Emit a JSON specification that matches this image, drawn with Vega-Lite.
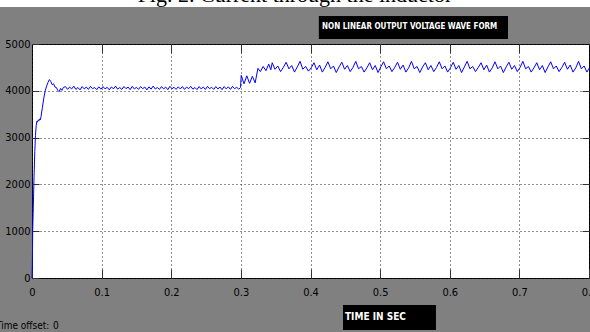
{
  "$schema": "https://vega.github.io/schema/vega-lite/v6.json",
  "width": 557,
  "height": 234,
  "autosize": {"type": "none"},
  "padding": {"left": 32, "top": 44, "right": 1, "bottom": 54},
  "background": "#808080",
  "config": {
    "view": {"fill": "white", "stroke": "black", "strokeWidth": 1},
    "axis": {"domain": false, "labelFont": "DejaVu Sans Condensed, Liberation Sans, sans-serif", "labelFontSize": 11, "labelColor": "black", "title": null}
  },
  "resolve": {"axis": {"x": "independent", "y": "independent"}},
  "layer": [
    {
      "data": {"values": [{}]},
      "mark": {"type": "rect", "color": "white"},
      "encoding": {
        "x": {"datum": -0.1, "type": "quantitative", "scale": {"domain": [0, 0.8], "nice": false}, "axis": null},
        "x2": {"datum": 0.9},
        "y": {"datum": 5792, "type": "quantitative", "scale": {"domain": [0, 5000], "nice": false}, "axis": null},
        "y2": {"datum": 6500}
      }
    },
    {
      "data": {"values": [{}]},
      "mark": {"type": "text", "font": "Liberation Serif", "fontSize": 22, "color": "black", "align": "center", "baseline": "alphabetic", "text": "Fig. 2. Current through the inductor"},
      "encoding": {
        "x": {"datum": 0.3777, "type": "quantitative", "scale": {"domain": [0, 0.8], "nice": false}, "axis": null},
        "y": {"datum": 5897, "type": "quantitative", "scale": {"domain": [0, 5000], "nice": false}, "axis": null}
      }
    },
    {
      "data": {"values": [{}]},
      "mark": {"type": "rect", "color": "black"},
      "encoding": {
        "x": {"datum": 0.412, "type": "quantitative", "scale": {"domain": [0, 0.8], "nice": false}, "axis": null},
        "x2": {"datum": 0.6837},
        "y": {"datum": 5107, "type": "quantitative", "scale": {"domain": [0, 5000], "nice": false}, "axis": null},
        "y2": {"datum": 5598}
      }
    },
    {
      "data": {"values": [{}]},
      "mark": {"type": "text", "font": "DejaVu Sans Condensed, Liberation Sans, sans-serif", "fontWeight": "bold", "fontSize": 8, "color": "white", "align": "left", "baseline": "middle", "text": "NON LINEAR  OUTPUT VOLTAGE WAVE FORM"},
      "encoding": {
        "x": {"datum": 0.4165, "type": "quantitative", "scale": {"domain": [0, 0.8], "nice": false}, "axis": null},
        "y": {"datum": 5353, "type": "quantitative", "scale": {"domain": [0, 5000], "nice": false}, "axis": null}
      }
    },
    {
      "data": {"values": [{}]},
      "mark": {"type": "rect", "color": "black"},
      "encoding": {
        "x": {"datum": 0.4467, "type": "quantitative", "scale": {"domain": [0, 0.8], "nice": false}, "axis": null},
        "x2": {"datum": 0.5802},
        "y": {"datum": -1111, "type": "quantitative", "scale": {"domain": [0, 5000], "nice": false}, "axis": null},
        "y2": {"datum": -577}
      }
    },
    {
      "data": {"values": [{}]},
      "mark": {"type": "text", "font": "DejaVu Sans Condensed, Liberation Sans, sans-serif", "fontWeight": "bold", "fontSize": 10, "color": "white", "align": "left", "baseline": "middle", "text": "TIME IN SEC"},
      "encoding": {
        "x": {"datum": 0.4495, "type": "quantitative", "scale": {"domain": [0, 0.8], "nice": false}, "axis": null},
        "y": {"datum": -844, "type": "quantitative", "scale": {"domain": [0, 5000], "nice": false}, "axis": null}
      }
    },
    {
      "data": {"values": [{}]},
      "mark": {"type": "text", "font": "DejaVu Sans Condensed, Liberation Sans, sans-serif", "fontSize": 10, "color": "black", "align": "left", "baseline": "middle", "text": "Time offset:"},
      "encoding": {
        "x": {"datum": -0.0517, "type": "quantitative", "scale": {"domain": [0, 0.8], "nice": false}, "axis": null},
        "y": {"datum": -1026, "type": "quantitative", "scale": {"domain": [0, 5000], "nice": false}, "axis": null}
      }
    },
    {
      "data": {"values": [{}]},
      "mark": {"type": "text", "font": "DejaVu Sans Condensed, Liberation Sans, sans-serif", "fontSize": 10, "color": "black", "align": "left", "baseline": "middle", "text": "0"},
      "encoding": {
        "x": {"datum": 0.0302, "type": "quantitative", "scale": {"domain": [0, 0.8], "nice": false}, "axis": null},
        "y": {"datum": -1026, "type": "quantitative", "scale": {"domain": [0, 5000], "nice": false}, "axis": null}
      }
    },
    {
      "data": {"values": [{}]},
      "mark": {"type": "point", "opacity": 0},
      "encoding": {
        "x": {"datum": 0, "type": "quantitative", "scale": {"domain": [0, 0.8], "nice": false},
              "axis": {"orient": "top", "values": [0.1, 0.2, 0.3, 0.4, 0.5, 0.6, 0.7], "labels": false, "grid": false, "tickSize": -9, "tickColor": "#333"}},
        "y": {"datum": 0, "type": "quantitative", "scale": {"domain": [0, 5000], "nice": false},
              "axis": {"orient": "right", "values": [1000, 2000, 3000, 4000], "labels": false, "grid": false, "tickSize": -7, "tickColor": "#333"}}
      }
    },
    {
      "data": {"values": [
        {"t":0,"v":0},{"t":0.0005,"v":300},{"t":0.001,"v":1000},{"t":0.002,"v":1600},{"t":0.003,"v":2200},{"t":0.004,"v":2700},{"t":0.005,"v":3050},{"t":0.006,"v":3250},{"t":0.007,"v":3350},{"t":0.008,"v":3330},{"t":0.009,"v":3380},{"t":0.010,"v":3360},{"t":0.011,"v":3400},{"t":0.012,"v":3380},{"t":0.013,"v":3450},{"t":0.015,"v":3650},{"t":0.017,"v":3850},{"t":0.019,"v":4000},{"t":0.021,"v":4100},{"t":0.023,"v":4180},{"t":0.025,"v":4240},{"t":0.027,"v":4200},{"t":0.029,"v":4130},{"t":0.031,"v":4150},{"t":0.033,"v":4080},{"t":0.035,"v":4070},{"t":0.037,"v":4010},{"t":0.039,"v":3980},{"t":0.041,"v":4050},{"t":0.043,"v":4010},{"t":0.045,"v":4070},
        {"t":0.048,"v":4090},{"t":0.051,"v":4030},{"t":0.054,"v":4080},{"t":0.057,"v":4040},{"t":0.060,"v":4100},{"t":0.063,"v":4030},{"t":0.066,"v":4070},{"t":0.069,"v":4020},{"t":0.072,"v":4090},{"t":0.075,"v":4040},{"t":0.078,"v":4080},{"t":0.081,"v":4030},{"t":0.084,"v":4095},{"t":0.087,"v":4045},{"t":0.090,"v":4070},{"t":0.093,"v":4025},{"t":0.096,"v":4085},{"t":0.099,"v":4035},{"t":0.102,"v":4090},{"t":0.105,"v":4040},{"t":0.108,"v":4075},{"t":0.111,"v":4020},{"t":0.114,"v":4085},{"t":0.117,"v":4040},{"t":0.120,"v":4100},{"t":0.123,"v":4035},{"t":0.126,"v":4070},{"t":0.129,"v":4030},{"t":0.132,"v":4090},{"t":0.135,"v":4045},{"t":0.138,"v":4080},{"t":0.141,"v":4025},{"t":0.144,"v":4095},{"t":0.147,"v":4040},{"t":0.150,"v":4075},{"t":0.153,"v":4030},{"t":0.156,"v":4090},{"t":0.159,"v":4045},{"t":0.162,"v":4080},{"t":0.165,"v":4020},{"t":0.168,"v":4085},{"t":0.171,"v":4035},{"t":0.174,"v":4100},{"t":0.177,"v":4040},{"t":0.180,"v":4070},{"t":0.183,"v":4030},{"t":0.186,"v":4090},{"t":0.189,"v":4040},{"t":0.192,"v":4080},{"t":0.195,"v":4025},{"t":0.198,"v":4095},{"t":0.201,"v":4045},{"t":0.204,"v":4075},{"t":0.207,"v":4030},{"t":0.210,"v":4085},{"t":0.213,"v":4040},{"t":0.216,"v":4090},{"t":0.219,"v":4030},{"t":0.222,"v":4080},{"t":0.225,"v":4045},{"t":0.228,"v":4095},{"t":0.231,"v":4035},{"t":0.234,"v":4070},{"t":0.237,"v":4025},{"t":0.240,"v":4090},{"t":0.243,"v":4040},{"t":0.246,"v":4080},{"t":0.249,"v":4030},{"t":0.252,"v":4095},{"t":0.255,"v":4045},{"t":0.258,"v":4075},{"t":0.261,"v":4030},{"t":0.264,"v":4090},{"t":0.267,"v":4040},{"t":0.270,"v":4080},{"t":0.273,"v":4025},{"t":0.276,"v":4090},{"t":0.279,"v":4040},{"t":0.282,"v":4085},{"t":0.285,"v":4030},{"t":0.288,"v":4095},{"t":0.291,"v":4045},{"t":0.294,"v":4075},{"t":0.297,"v":4035},{"t":0.2995,"v":4070},
        {"t":0.3005,"v":4330},{"t":0.3045,"v":4150},{"t":0.3085,"v":4320},{"t":0.3125,"v":4160},{"t":0.3165,"v":4310},{"t":0.3205,"v":4170},{"t":0.3245,"v":4480},{"t":0.328,"v":4410},{"t":0.332,"v":4520},{"t":0.336,"v":4430},{"t":0.340,"v":4570},{"t":0.343,"v":4450},
        {"t":0.345,"v":4600},{"t":0.349,"v":4460},{"t":0.353,"v":4530},{"t":0.357,"v":4410},{"t":0.361,"v":4500},
        {"t":0.365,"v":4610},{"t":0.369,"v":4470},{"t":0.373,"v":4540},{"t":0.377,"v":4400},{"t":0.381,"v":4510},
        {"t":0.385,"v":4630},{"t":0.389,"v":4460},{"t":0.393,"v":4520},{"t":0.397,"v":4420},{"t":0.401,"v":4490},
        {"t":0.405,"v":4600},{"t":0.409,"v":4450},{"t":0.413,"v":4550},{"t":0.417,"v":4400},{"t":0.421,"v":4500},
        {"t":0.425,"v":4620},{"t":0.429,"v":4470},{"t":0.433,"v":4530},{"t":0.437,"v":4390},{"t":0.441,"v":4510},
        {"t":0.445,"v":4610},{"t":0.449,"v":4460},{"t":0.453,"v":4540},{"t":0.457,"v":4410},{"t":0.461,"v":4500},
        {"t":0.465,"v":4630},{"t":0.469,"v":4470},{"t":0.473,"v":4520},{"t":0.477,"v":4400},{"t":0.481,"v":4490},
        {"t":0.485,"v":4600},{"t":0.489,"v":4450},{"t":0.493,"v":4540},{"t":0.497,"v":4390},{"t":0.501,"v":4510},
        {"t":0.505,"v":4620},{"t":0.509,"v":4470},{"t":0.513,"v":4530},{"t":0.517,"v":4410},{"t":0.521,"v":4500},
        {"t":0.525,"v":4610},{"t":0.529,"v":4460},{"t":0.533,"v":4550},{"t":0.537,"v":4400},{"t":0.541,"v":4490},
        {"t":0.545,"v":4630},{"t":0.549,"v":4470},{"t":0.553,"v":4520},{"t":0.557,"v":4390},{"t":0.561,"v":4510},
        {"t":0.565,"v":4600},{"t":0.569,"v":4450},{"t":0.573,"v":4540},{"t":0.577,"v":4410},{"t":0.581,"v":4500},
        {"t":0.585,"v":4620},{"t":0.589,"v":4470},{"t":0.593,"v":4530},{"t":0.597,"v":4400},{"t":0.601,"v":4490},
        {"t":0.605,"v":4610},{"t":0.609,"v":4460},{"t":0.613,"v":4540},{"t":0.617,"v":4390},{"t":0.621,"v":4510},
        {"t":0.625,"v":4630},{"t":0.629,"v":4470},{"t":0.633,"v":4520},{"t":0.637,"v":4410},{"t":0.641,"v":4500},
        {"t":0.645,"v":4600},{"t":0.649,"v":4450},{"t":0.653,"v":4550},{"t":0.657,"v":4400},{"t":0.661,"v":4490},
        {"t":0.665,"v":4620},{"t":0.669,"v":4470},{"t":0.673,"v":4530},{"t":0.677,"v":4390},{"t":0.681,"v":4510},
        {"t":0.685,"v":4610},{"t":0.689,"v":4460},{"t":0.693,"v":4540},{"t":0.697,"v":4410},{"t":0.701,"v":4500},
        {"t":0.705,"v":4630},{"t":0.709,"v":4470},{"t":0.713,"v":4520},{"t":0.717,"v":4400},{"t":0.721,"v":4490},
        {"t":0.725,"v":4600},{"t":0.729,"v":4450},{"t":0.733,"v":4540},{"t":0.737,"v":4390},{"t":0.741,"v":4510},
        {"t":0.745,"v":4620},{"t":0.749,"v":4470},{"t":0.753,"v":4530},{"t":0.757,"v":4410},{"t":0.761,"v":4500},
        {"t":0.765,"v":4610},{"t":0.769,"v":4460},{"t":0.773,"v":4550},{"t":0.777,"v":4400},{"t":0.781,"v":4490},
        {"t":0.785,"v":4630},{"t":0.789,"v":4470},{"t":0.793,"v":4530},{"t":0.797,"v":4400},{"t":0.800,"v":4480}
      ]},
      "mark": {"type": "line", "color": "#0000ff", "strokeWidth": 1},
      "encoding": {
        "x": {"field": "t", "type": "quantitative", "scale": {"domain": [0, 0.8], "nice": false},
              "axis": {"orient": "bottom", "values": [0, 0.1, 0.2, 0.3, 0.4, 0.5, 0.6, 0.7, 0.8], "labelExpr": "datum.value == 0 ? '0' : format(datum.value, '.1f')", "grid": true, "gridDash": [1, 3], "gridColor": "#222", "gridOpacity": 1, "tickSize": -9, "tickColor": "#333", "labelPadding": 17, "labelFlush": false, "labelOverlap": false}},
        "y": {"field": "v", "type": "quantitative", "scale": {"domain": [0, 5000], "nice": false},
              "axis": {"orient": "left", "values": [0, 1000, 2000, 3000, 4000, 5000], "format": "d", "grid": true, "gridDash": [1, 3], "gridColor": "#222", "gridOpacity": 1, "tickSize": -7, "tickColor": "#333", "labelPadding": 9, "labelFlush": false, "labelOverlap": false}}
      }
    }
  ]
}
